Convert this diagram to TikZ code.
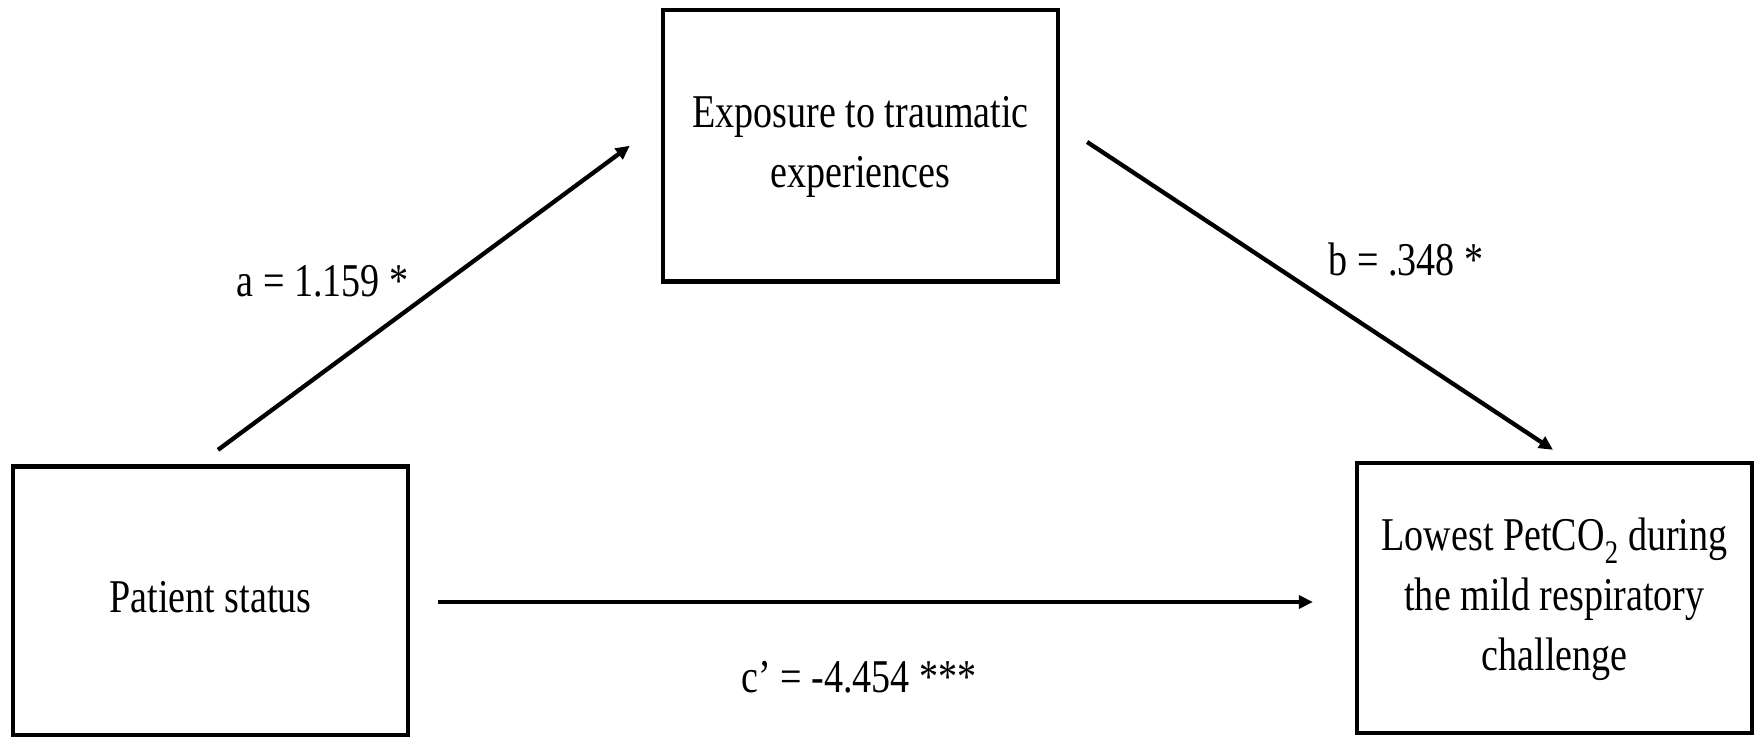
\documentclass[tikz,border=0pt]{standalone}
\usepackage{fontspec}
\setmainfont{Liberation Serif}
\usepackage{graphicx}
\usetikzlibrary{arrows.meta}
\newcommand{\nt}[1]{\scalebox{0.81}[1]{\begin{tabular}{@{}c@{}}#1\end{tabular}}}
\begin{document}
\begin{tikzpicture}[x=1pt,y=1pt,
  box/.style={draw, line width=4.3pt, minimum width=395pt, minimum height=270pt, inner sep=0pt, font=\fontsize{47}{60}\selectfont},
  lbl/.style={inner sep=0pt, anchor=base, font=\fontsize{47}{60}\selectfont},
  arr/.style={line width=4.3pt, -{Triangle[length=14pt,width=13pt]}}]
\useasboundingbox (0,0) rectangle (1756,737);
\node[box, minimum height=268.5pt] (PS) at (210.5,136.25) {\nt{Patient status}};
\node[box, minimum height=271.5pt] (EX) at (860.5,591.25) {\nt{Exposure to traumatic\\experiences}};
\node[box] (LO) at (1554.5,139) {\nt{Lowest PetCO\textsubscript{2} during\\the mild respiratory\\challenge}};
\draw[arr] ([xshift=7.5pt,yshift=14.5pt]PS.north) -- ([xshift=-31pt]EX.west);
\draw[arr] ([xshift=27pt,yshift=3.75pt]EX.east) -- ([xshift=-1.5pt,yshift=11pt]LO.north);
\draw[arr] ([xshift=28pt,yshift=-1.25pt]PS.east) -- ([xshift=-42pt,yshift=-4pt]LO.west);
\node[lbl] (la) at (322.5,440) {\scalebox{0.81}[1]{a = 1.159 *}};
\node[lbl] (lb) at (1406,461) {\scalebox{0.81}[1]{b = .348 *}};
\node[lbl] (lc) at (859,45) {\scalebox{0.81}[1]{c’ = -4.454 ***}};
\end{tikzpicture}
\end{document}
